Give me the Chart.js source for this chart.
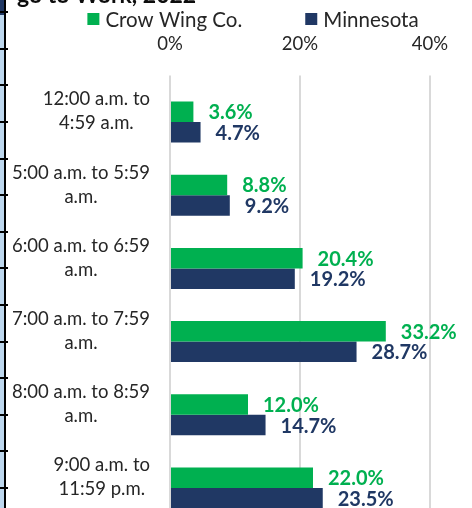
<!DOCTYPE html>
<html>
<head>
<meta charset="utf-8">
<script src="https://cdn.jsdelivr.net/npm/chart.js@4.4.0/dist/chart.umd.min.js"></script>
<style>
  html, body { margin: 0; padding: 0; overflow: hidden; background: #fff; }
  #wrap { position: relative; width: 472px; height: 540px; }
</style>
</head>
<body>
<div id="wrap"><canvas id="chart" width="472" height="540"></canvas></div>
<script>
// data
const categories = [
  ['12:00 a.m. to', '4:59 a.m.'],
  ['5:00 a.m. to 5:59', 'a.m.'],
  ['6:00 a.m. to 6:59', 'a.m.'],
  ['7:00 a.m. to 7:59', 'a.m.'],
  ['8:00 a.m. to 8:59', 'a.m.'],
  ['9:00 a.m. to', '11:59 p.m.']
];
const crowWing = [3.6, 8.8, 20.4, 33.2, 12.0, 22.0];
const minnesota = [4.7, 9.2, 19.2, 28.7, 14.7, 23.5];
const seriesNames = ['Crow Wing Co.', 'Minnesota'];
const xTicks = [0, 20, 40];
const titleText = 'go to Work, 2022';

const GREEN = '#00B050';
const NAVY = '#203864';
const TEXT = '#262626';

Chart.defaults.font.family = 'Lato';

// left edge strip (piece of the neighbouring chart) + cut-off title
const decorPlugin = {
  id: 'decor',
  beforeDraw(chart) {
    const ctx = chart.ctx;
    ctx.save();
    ctx.fillStyle = '#BDD7EE';
    ctx.fillRect(0, 0, 4, chart.height);
    ctx.fillStyle = '#203864';
    ctx.fillRect(0, 0, 4, 15);
    ctx.fillStyle = '#000';
    ctx.fillRect(4, 0, 2, chart.height);
    const yScale = chart.scales.y;
    const step = (yScale.getPixelForTick(1) - yScale.getPixelForTick(0)) / 2;
    for (let y = yScale.getPixelForTick(0) - step * 3; y < chart.height; y += step) {
      ctx.fillRect(0, Math.round(y) - 1, 8, 2);
    }
    ctx.font = 'bold 23px Lato';
    ctx.fillStyle = '#0d0d0d';
    ctx.textBaseline = 'alphabetic';
    ctx.fillText(titleText, 17, 3);
    ctx.restore();
  }
};

// legend drawn by hand so spacing matches
const legendPlugin = {
  id: 'customLegend',
  afterDraw(chart) {
    const ctx = chart.ctx;
    ctx.save();
    ctx.font = '20.5px Lato';
    ctx.textBaseline = 'middle';
    const box = 12, gapText = 6, gapItem = 63;
    const items = chart.data.datasets.map(d => ({ text: d.label, color: d.backgroundColor }));
    const widths = items.map(it => box + gapText + ctx.measureText(it.text).width);
    const total = widths.reduce((a, b) => a + b, 0) + gapItem * (items.length - 1);
    let x = 253 - total / 2;
    const y = 19;
    items.forEach((it, i) => {
      ctx.fillStyle = it.color;
      ctx.fillRect(x, y - box / 2, box, box);
      ctx.fillStyle = TEXT;
      ctx.fillText(it.text, x + box + gapText, y + 1);
      x += widths[i] + gapItem;
    });
    ctx.restore();
  }
};

// category labels: block right-aligned, lines centred within the block
const yLabelPlugin = {
  id: 'yLabels',
  afterDraw(chart) {
    const ctx = chart.ctx;
    const yScale = chart.scales.y;
    const right = chart.chartArea.left - 20;
    const lineH = 24;
    ctx.save();
    ctx.font = '18.5px Lato';
    ctx.fillStyle = TEXT;
    ctx.textAlign = 'center';
    ctx.textBaseline = 'middle';
    categories.forEach((lines, i) => {
      const w = Math.max(...lines.map(l => ctx.measureText(l).width));
      const cx = right - w / 2;
      const cy = yScale.getPixelForTick(i) - 10.5;
      lines.forEach((l, j) => {
        ctx.fillText(l, cx, cy + (j - (lines.length - 1) / 2) * lineH);
      });
    });
    ctx.restore();
  }
};

// value labels to the right of each bar
const valueLabelPlugin = {
  id: 'valueLabels',
  afterDatasetsDraw(chart) {
    const ctx = chart.ctx;
    ctx.save();
    ctx.font = 'bold 20px Lato';
    ctx.textAlign = 'left';
    ctx.textBaseline = 'middle';
    chart.data.datasets.forEach((ds, di) => {
      const meta = chart.getDatasetMeta(di);
      meta.data.forEach((bar, i) => {
        ctx.fillStyle = ds.backgroundColor;
        ctx.fillText(ds.data[i].toFixed(1) + '%', bar.x + 15, bar.y + 1);
      });
    });
    ctx.restore();
  }
};

new Chart(document.getElementById('chart'), {
  type: 'bar',
  data: {
    labels: categories,
    datasets: [
      { label: seriesNames[0], data: crowWing, backgroundColor: GREEN },
      { label: seriesNames[1], data: minnesota, backgroundColor: NAVY }
    ]
  },
  options: {
    indexAxis: 'y',
    responsive: false,
    animation: false,
    layout: { padding: { left: 76, right: 42, top: 13.2, bottom: 15.4 } },
    datasets: { bar: { categoryPercentage: 0.56, barPercentage: 1 } },
    plugins: {
      legend: { display: false },
      tooltip: { enabled: false }
    },
    scales: {
      x: {
        position: 'top',
        min: 0,
        max: 40,
        afterBuildTicks(scale) { scale.ticks = xTicks.map(v => ({ value: v })); },
        ticks: {
          padding: 20,
          color: TEXT,
          font: { size: 18.5 },
          callback: v => v + '%'
        },
        grid: { color: '#D9D9D9', lineWidth: 2, drawTicks: true, tickLength: 10 },
        border: { display: false }
      },
      y: {
        afterFit(scale) { scale.width = 94; },
        ticks: { display: false },
        grid: { display: false },
        border: { display: false }
      }
    }
  },
  plugins: [decorPlugin, legendPlugin, yLabelPlugin, valueLabelPlugin]
});
</script>
</body>
</html>
